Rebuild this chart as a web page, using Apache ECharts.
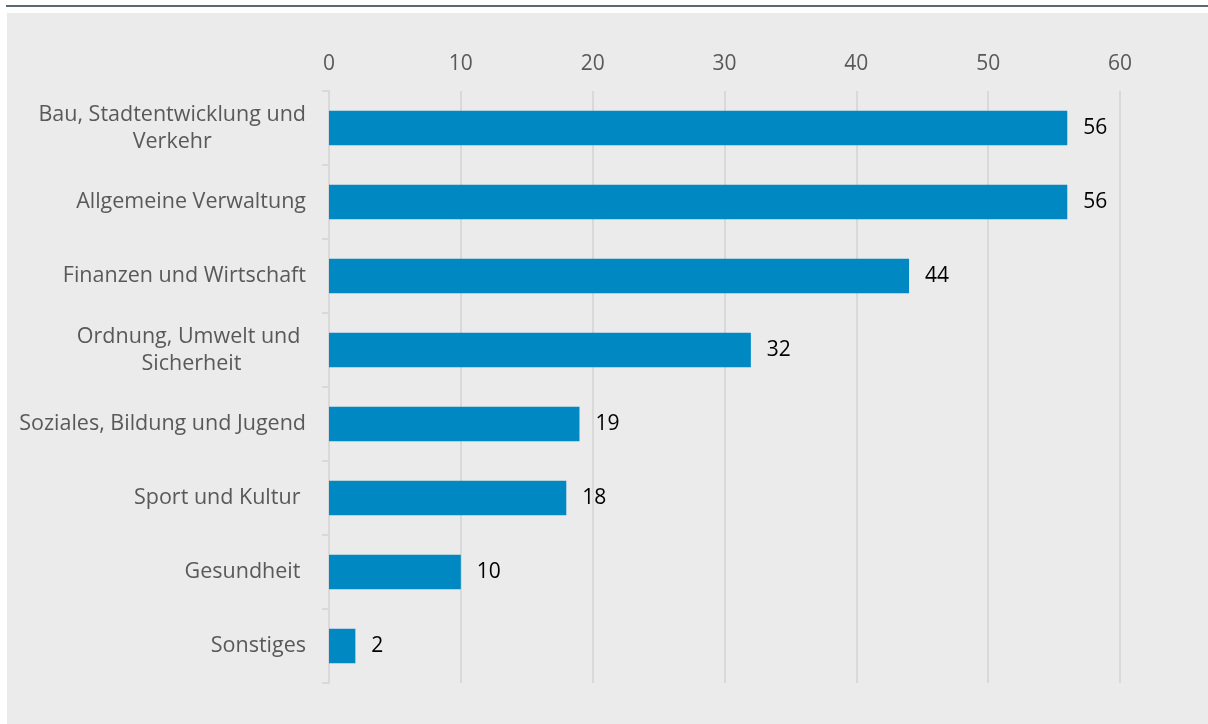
<!DOCTYPE html>
<html>
<head>
<meta charset="utf-8">
<title>Anzahl nach Bereich</title>
<script src="https://cdn.jsdelivr.net/npm/echarts@6/dist/echarts.min.js"></script>
<style>
  html, body { margin: 0; padding: 0; background: #ffffff; }
  #chart { width: 1208px; height: 724px; }
</style>
</head>
<body>
<div id="chart"></div>
<script>
// Fachbereiche (top to bottom) and their counts
const categories = [
  'Bau, Stadtentwicklung und\nVerkehr',
  'Allgemeine Verwaltung',
  'Finanzen und Wirtschaft',
  'Ordnung, Umwelt und \nSicherheit',
  'Soziales, Bildung und Jugend',
  'Sport und Kultur ',
  'Gesundheit ',
  'Sonstiges'
];
const values = [56, 56, 44, 32, 19, 18, 10, 2];
const axisTicks = [0, 10, 20, 30, 40, 50, 60];

const FONT = '"Open Sans", sans-serif';
const GRID_COLOR = '#d9d9d9';

const chart = echarts.init(document.getElementById('chart'), null, { renderer: 'canvas' });

chart.setOption({
  backgroundColor: '#ffffff',
  animation: false,
  graphic: [
    // thin dark rule across the top
    { type: 'rect', z: -10, shape: { x: 6, y: 5, width: 1202, height: 2 }, style: { fill: '#5d676f' } },
    // light grey panel behind the chart
    { type: 'rect', z: -10, shape: { x: 7, y: 13, width: 1201, height: 711 }, style: { fill: '#ebebeb' } }
  ],
  grid: { left: 329, right: 88, top: 91, bottom: 41, containLabel: false },
  xAxis: {
    type: 'value',
    position: 'top',
    min: axisTicks[0],
    max: axisTicks[axisTicks.length - 1],
    interval: axisTicks[1] - axisTicks[0],
    axisLine: { show: false },
    axisTick: { show: false },
    axisLabel: { color: '#595959', fontSize: 21, fontFamily: FONT, margin: 16 },
    splitLine: { show: true, lineStyle: { color: GRID_COLOR, width: 2 } }
  },
  yAxis: {
    type: 'category',
    inverse: true,
    data: categories,
    axisLine: { show: true, lineStyle: { color: GRID_COLOR, width: 2 } },
    axisTick: { show: true, length: 7, lineStyle: { color: GRID_COLOR, width: 2 } },
    axisLabel: {
      margin: 23,
      color: '#595959',
      fontSize: 21.5,
      fontFamily: FONT,
      formatter: function (v) { return '{c|' + v + '}'; },
      rich: {
        c: { align: 'center', color: '#595959', fontSize: 21.5, fontFamily: FONT, lineHeight: 27 }
      }
    },
    splitLine: { show: false }
  },
  series: [{
    type: 'bar',
    data: values,
    barWidth: 34.5,
    itemStyle: { color: '#0088c2' },
    label: {
      show: true,
      position: 'right',
      distance: 16,
      color: '#000000',
      fontSize: 21,
      fontFamily: FONT
    }
  }]
});
</script>
</body>
</html>
